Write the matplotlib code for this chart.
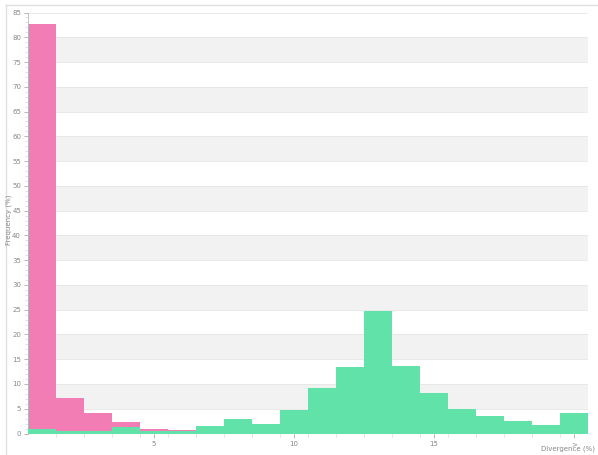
import matplotlib
matplotlib.use("Agg")
import matplotlib.pyplot as plt
from matplotlib.lines import Line2D

bins = list(range(1, 21))
pink = [82.7, 7.2, 4.1, 2.4, 0.85, 0.8, 0, 0, 0, 0, 0, 0, 0, 0, 0, 0, 0, 0, 0, 0]
green = [0.9, 0.5, 0.5, 1.3, 0.6, 0.5, 1.5, 2.9, 1.9, 4.8, 9.1, 13.4, 24.8, 13.6,
         8.1, 4.9, 3.5, 2.6, 1.7, 4.2]
xtick_pos = [5, 10, 15, 20]
xtick_labels = ["5", "10", "15", ">"]
ytick_vals = list(range(0, 90, 5))

fig = plt.figure(figsize=(5.98, 4.55), dpi=100)
ax = fig.add_axes([28 / 598, 21.5 / 455, 560 / 598, 421 / 455])

# alternating bands
for y0 in range(5, 85, 10):
    ax.axhspan(y0, y0 + 5, color="#f2f2f2", zorder=0, lw=0)
for y in ytick_vals[1:]:
    ax.axhline(y, color="#e6e6e6", lw=0.6, zorder=0.5)

ax.bar(bins, pink, width=1.0, color="#f17db4", zorder=2, lw=0)
ax.bar(bins, green, width=1.0, color="#60e2a8", zorder=3, lw=0)

ax.set_xlim(0.5, 20.5)
ax.set_ylim(0, 85)
ax.set_xticks(xtick_pos)
ax.set_xticklabels(xtick_labels)
ax.set_xticks([b + 0.5 for b in bins[:-1]], minor=True)
ax.set_yticks(ytick_vals)
ax.set_yticks(range(0, 86), minor=True)

for s in ["top", "right", "bottom"]:
    ax.spines[s].set_visible(False)
ax.spines["left"].set_color("#bbbbbb")
ax.spines["left"].set_linewidth(0.6)
ax.tick_params(axis="both", which="major", labelsize=5, colors="#999999",
               length=3, width=0.5, pad=2)
ax.tick_params(axis="both", which="minor", length=2, width=0.4, colors="#cccccc")
ax.tick_params(axis="y", which="major", labelcolor="#888888")
ax.tick_params(axis="x", which="major", labelcolor="#888888", pad=2.5)

fig.text(9 / 598, 1 - 220 / 455, "Frequency (%)", rotation=90, fontsize=5,
         color="#888888", ha="center", va="center")
fig.text(568 / 598, 1 - 449 / 455, "Divergence (%)", fontsize=5,
         color="#888888", ha="center", va="center")

# outer frame lines
fig.add_artist(Line2D([6 / 598, 1], [1 - 5 / 455, 1 - 5 / 455],
                      transform=fig.transFigure, color="#e0e0e0", lw=1))
fig.add_artist(Line2D([6 / 598, 6 / 598], [0, 1 - 5 / 455],
                      transform=fig.transFigure, color="#e0e0e0", lw=1))

fig.savefig("out.png", dpi=100)
